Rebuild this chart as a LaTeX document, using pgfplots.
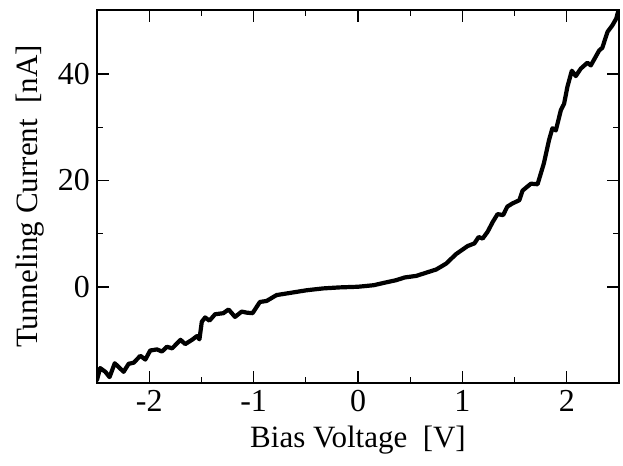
\documentclass[border=0pt]{standalone}
\usepackage{pgfplots}
\pgfplotsset{compat=1.18}
\usepackage{fontspec}
\setmainfont{Liberation Serif}

\pgfplotstableread{
V I
-2.50 -17.4
-2.47 -15.2
-2.42 -15.9
-2.38 -16.9
-2.33 -14.3
-2.245 -15.9
-2.197 -14.4
-2.149 -14.2
-2.085 -12.9
-2.037 -13.6
-1.99 -11.9
-1.925 -11.7
-1.878 -12.1
-1.83 -11.2
-1.78 -11.5
-1.70 -9.9
-1.655 -10.7
-1.59 -9.9
-1.543 -9.2
-1.519 -9.8
-1.496 -6.5
-1.464 -5.7
-1.423 -6.3
-1.369 -5.1
-1.29 -4.9
-1.24 -4.2
-1.178 -5.6
-1.114 -4.6
-1.066 -4.8
-1.01 -4.9
-0.94 -2.8
-0.875 -2.6
-0.78 -1.5
-0.652 -1.1
-0.493 -0.6
-0.334 -0.25
-0.175 -0.06
0 0.06
0.15 0.35
0.25 0.8
0.367 1.3
0.446 1.8
0.558 2.1
0.685 2.9
0.749 3.3
0.844 4.4
0.94 6.2
1.05 7.7
1.115 8.2
1.156 9.4
1.194 9.1
1.242 10.4
1.29 12.2
1.337 13.7
1.39 13.5
1.43 15.1
1.48 15.7
1.545 16.3
1.576 18.1
1.656 19.4
1.72 19.3
1.78 23.2
1.83 27.6
1.862 29.8
1.895 29.4
1.943 33.2
1.974 34.4
2.006 37.6
2.048 40.6
2.086 39.6
2.134 41.0
2.197 42.1
2.23 41.6
2.31 44.4
2.34 44.9
2.39 47.9
2.436 49.1
2.474 50.4
2.49 51.6
}\ivdata

\begin{document}
\begin{tikzpicture}
\begin{axis}[
  name=a,
  scale only axis,
  width=261pt,height=186.5pt,
  xmin=-2.5,xmax=2.5,ymin=-18,ymax=52,
  xtick={-2,-1,0,1,2},xticklabels={-2,-1,0,1,2},
  minor x tick num=1,
  ytick={0,20,40},minor y tick num=1,
  tick align=inside,
  major tick length=6pt,minor tick length=3pt,
  every tick/.style={black,line width=0.6pt},
  axis line style={line width=0.8pt},
  /pgf/number format/assume math mode=true,
  tick label style={font=\fontsize{16}{19}\selectfont},
  label style={font=\fontsize{15.5}{18}\selectfont},
  xlabel={Bias Voltage~~[V]},
  ylabel={Tunneling Current~~[nA]},
  xlabel style={at={(rel axis cs:0.5,0)},anchor=center,yshift=-28.5pt},
  ylabel style={at={(rel axis cs:0,0.5)},anchor=center,yshift=33.5pt},
  clip=true,
]
\addplot[black,line width=2.1pt,line join=round,line cap=round] table[x=V,y=I] {\ivdata};
\end{axis}
\pgfresetboundingbox
\path ([shift={(-48.5pt,-41.5pt)}]a.south west) rectangle ([shift={(2pt,5pt)}]a.north east);
\end{tikzpicture}
\end{document}
